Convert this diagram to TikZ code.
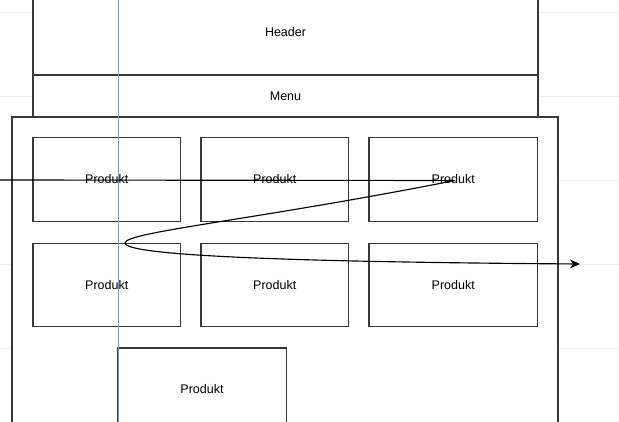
\documentclass[tikz,border=0pt]{standalone}
\usepackage{fontspec}
\setmainfont{Liberation Sans}
\usetikzlibrary{arrows.meta}
\definecolor{guide}{RGB}{132,154,192}
\definecolor{gridgray}{RGB}{238,238,238}
\tikzset{
	box/.style={draw=black!78, fill=white, line width=0.42mm, inner sep=0pt,
		font=\fontsize{12.5}{15}\selectfont},
	produkt/.style={box, minimum width=147.5pt, minimum height=83.5pt},
	produktwide/.style={box, minimum width=168.5pt, minimum height=83.5pt},
}

\begin{document}
\begin{tikzpicture}[x=1pt, y=-1pt]
			%%%%% START %%%%%
			\clip (0, 0) rectangle (619, 422);
			\fill[white] (0, 0) rectangle (619, 422);
			
			% background grid
			\foreach \gy in {12, 96, 180, 264, 348}
				\draw[line width=0.3mm, color=gridgray] (0, \gy) -- (619, \gy);
			
			\node[box, minimum width=505pt, minimum height=85pt] (header) at (285.5, 32.5) {Header};
			\node[box, minimum width=505pt, minimum height=42pt] (menu) at (285.5, 96) {Menu};
			\node[box, minimum width=546pt, minimum height=330pt] (page) at (285, 282) {};
			
			\node[produkt] (p1) at (106.75, 179.5) {Produkt};
			\node[produkt] (p2) at (274.75, 179.5) {Produkt};
			\node[produktwide] (p3) at (453.25, 179.5) {Produkt};
			\node[produkt] (p4) at (106.75, 285) {Produkt};
			\node[produkt] (p5) at (274.75, 285) {Produkt};
			\node[produktwide] (p6) at (453.25, 285) {Produkt};
			\node[produktwide, minimum height=82pt] (p7) at (202, 389) {Produkt};
			
			% guide
			\draw[line width=0.35mm, color=guide] (118, 0) -- (118, 422);
			
			% reading path
			\coordinate (in) at (0, 180);
			\coordinate (turn) at (455, 180.5);
			\coordinate (tip) at (125, 243);
			\coordinate (out) at (580, 264);
			\draw[line width=0.4mm, -{Stealth[length=10pt, width=9pt, inset=3pt]}]
				(in) -- (turn) .. controls (255, 220) and (125, 232) .. (tip)
				.. controls (125, 256) and (300, 262) .. (out);
			
			%%%%% END %%%%%
\end{tikzpicture}
\end{document}
